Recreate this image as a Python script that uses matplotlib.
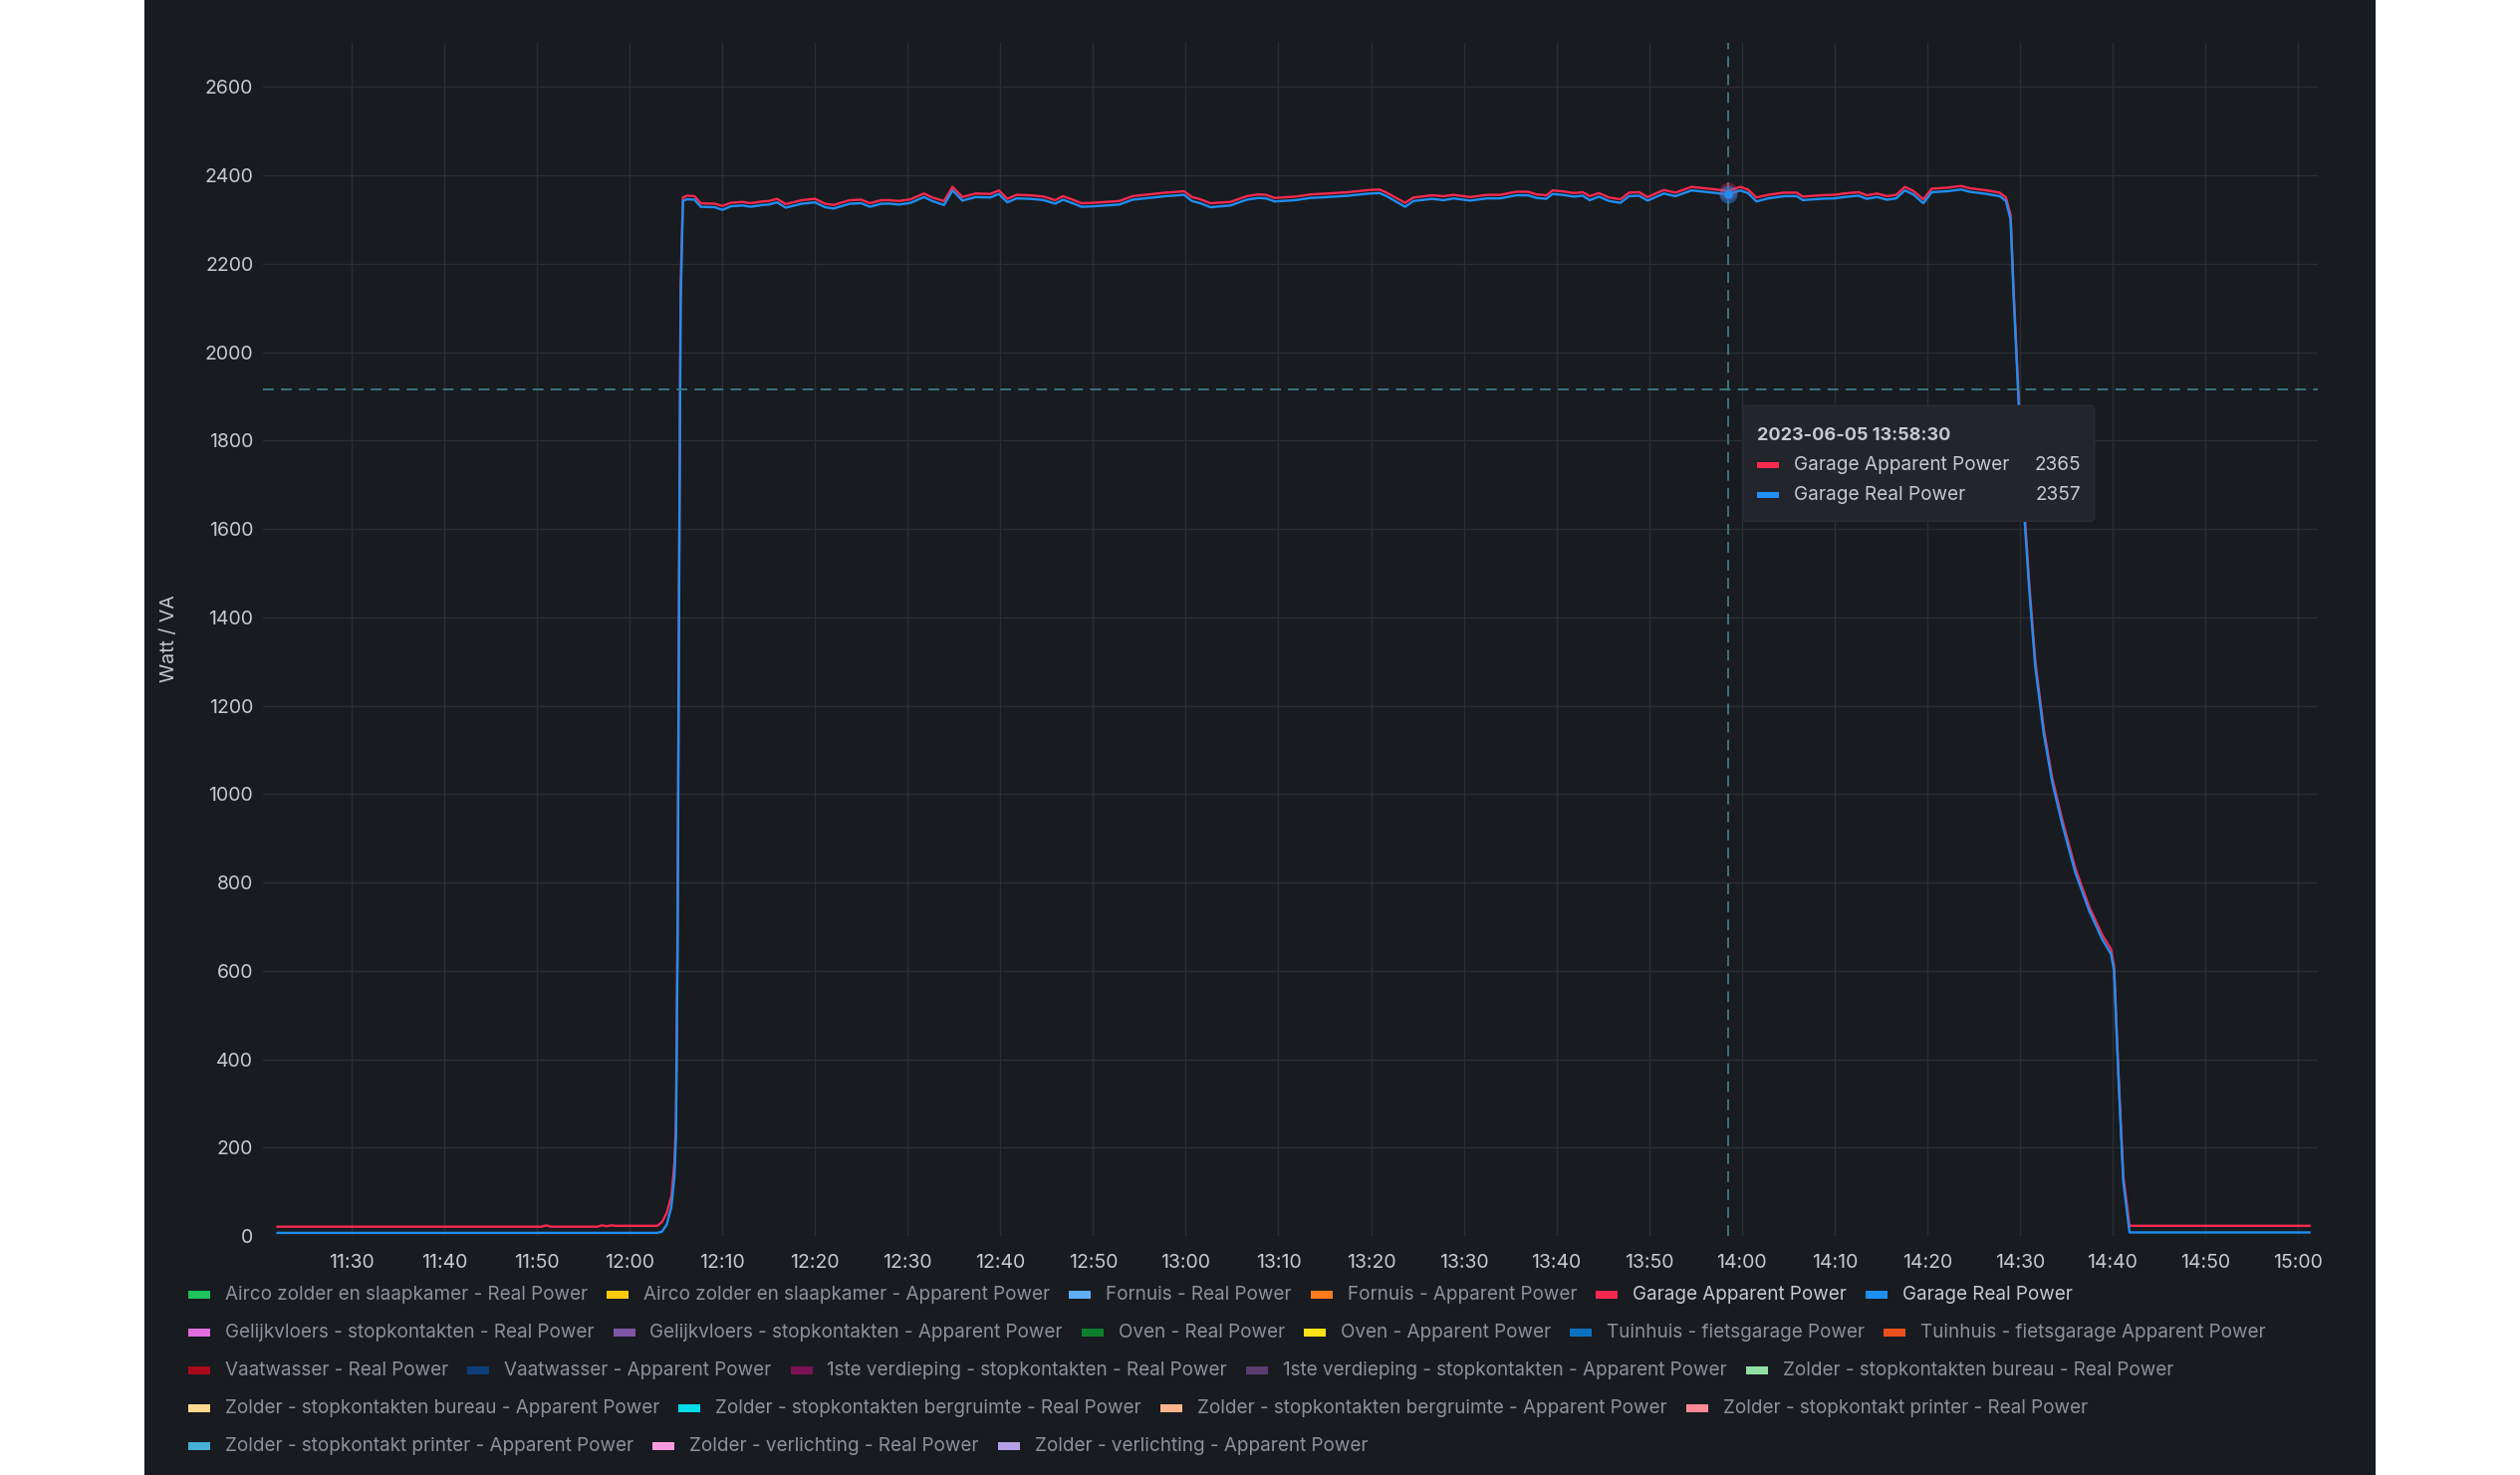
import matplotlib
matplotlib.use("Agg")
import matplotlib.pyplot as plt
import matplotlib.dates as mdates
from matplotlib.patches import Rectangle, FancyBboxPatch
from matplotlib.transforms import IdentityTransform
import pandas as pd

plt.rcParams['font.family'] = ['Inter', 'DejaVu Sans']

DAY = '2023-06-05 '

times = [
    '11:22:00', '11:50:30', '11:51:00', '11:51:30', '11:56:30', '11:57:00', '11:57:30', '11:58:00',
    '11:58:30', '12:03:00', '12:03:30', '12:04:00', '12:04:30', '12:04:50', '12:05:00', '12:05:10',
    '12:05:20', '12:05:30', '12:05:45', '12:06:10', '12:07:00', '12:07:40', '12:09:10', '12:10:00',
    '12:10:55', '12:12:10', '12:13:00', '12:14:20', '12:15:00', '12:15:55', '12:16:50', '12:18:35',
    '12:20:00', '12:21:05', '12:22:00', '12:23:45', '12:25:00', '12:25:55', '12:27:10', '12:28:00',
    '12:29:05', '12:30:20', '12:31:45', '12:32:40', '12:33:55', '12:34:50', '12:35:55', '12:37:20',
    '12:38:55', '12:39:50', '12:40:45', '12:41:45', '12:43:15', '12:44:40', '12:45:55', '12:46:45',
    '12:47:40', '12:48:45', '12:50:00', '12:51:25', '12:52:50', '12:54:15', '12:56:05', '12:57:50',
    '12:59:50', '13:00:40', '13:01:35', '13:02:40', '13:04:50', '13:06:35', '13:07:50', '13:08:40',
    '13:09:35', '13:11:50', '13:13:30', '13:15:20', '13:17:30', '13:19:50', '13:20:55', '13:21:40',
    '13:23:40', '13:24:35', '13:26:35', '13:27:50', '13:28:55', '13:30:40', '13:32:30', '13:33:55',
    '13:35:40', '13:36:55', '13:37:50', '13:38:55', '13:39:35', '13:40:40', '13:41:50', '13:42:50',
    '13:43:35', '13:44:35', '13:45:40', '13:46:55', '13:47:50', '13:48:55', '13:49:50', '13:51:35',
    '13:52:50', '13:54:35', '13:56:25', '13:58:30', '13:59:50', '14:00:40', '14:01:35', '14:02:50',
    '14:04:35', '14:05:55', '14:06:35', '14:08:30', '14:10:00', '14:11:00', '14:12:35', '14:13:30',
    '14:14:35', '14:15:40', '14:16:40', '14:17:35', '14:18:30', '14:19:35', '14:20:30', '14:22:05',
    '14:23:40', '14:24:35', '14:26:25', '14:27:50', '14:28:30', '14:29:00', '14:29:20', '14:29:55',
    '14:30:30', '14:31:00', '14:31:40', '14:32:35', '14:33:30', '14:34:35', '14:36:00', '14:37:30',
    '14:38:55', '14:39:50', '14:40:10', '14:40:40', '14:41:10', '14:41:50', '15:01:15',
]

apparent_power = [
    21, 21, 24, 21, 21, 24, 22, 24,
    23, 23, 32, 52, 90, 165, 260, 700,
    1500, 2150, 2350, 2354, 2353, 2337, 2336, 2331,
    2338, 2340, 2337, 2341, 2342, 2347, 2335, 2344,
    2347, 2336, 2333, 2344, 2345, 2337, 2344, 2344,
    2342, 2346, 2359, 2350, 2342, 2374, 2351, 2359,
    2358, 2366, 2347, 2356, 2355, 2352, 2344, 2353,
    2346, 2337, 2338, 2340, 2342, 2353, 2357, 2361,
    2364, 2351, 2346, 2337, 2340, 2353, 2357, 2356,
    2349, 2352, 2357, 2359, 2362, 2367, 2368, 2361,
    2338, 2350, 2355, 2353, 2356, 2351, 2356, 2356,
    2363, 2363, 2357, 2355, 2366, 2364, 2360, 2362,
    2353, 2360, 2350, 2346, 2361, 2362, 2351, 2367,
    2361, 2374, 2370, 2365, 2374, 2368, 2350, 2356,
    2361, 2361, 2352, 2355, 2356, 2359, 2362, 2355,
    2359, 2353, 2356, 2374, 2365, 2346, 2370, 2372,
    2376, 2371, 2366, 2361, 2350, 2310, 2140, 1880,
    1640, 1480, 1300, 1147, 1036, 941, 831, 744,
    680, 649, 610, 356, 134, 23, 23,
]

real_power = [
    7, 7, 7, 7, 7, 7, 7, 7,
    7, 7, 10, 26, 65, 135, 225, 640,
    1440, 2110, 2342, 2346, 2345, 2329, 2328, 2322,
    2330, 2332, 2329, 2333, 2334, 2339, 2327, 2336,
    2339, 2328, 2325, 2336, 2337, 2329, 2336, 2336,
    2334, 2338, 2351, 2342, 2333, 2366, 2343, 2351,
    2350, 2358, 2339, 2348, 2347, 2344, 2336, 2345,
    2338, 2329, 2330, 2332, 2334, 2345, 2349, 2353,
    2356, 2342, 2337, 2328, 2332, 2345, 2349, 2348,
    2341, 2344, 2349, 2351, 2354, 2359, 2360, 2353,
    2329, 2342, 2347, 2344, 2348, 2343, 2348, 2348,
    2355, 2355, 2349, 2347, 2358, 2356, 2352, 2354,
    2344, 2352, 2342, 2338, 2353, 2354, 2343, 2359,
    2353, 2366, 2362, 2357, 2366, 2360, 2341, 2348,
    2353, 2353, 2344, 2347, 2348, 2351, 2354, 2347,
    2351, 2345, 2348, 2366, 2357, 2337, 2362, 2364,
    2368, 2363, 2358, 2353, 2342, 2300, 2125, 1865,
    1625, 1466, 1288, 1136, 1026, 931, 821, 735,
    670, 638, 600, 345, 122, 8, 8,
]

x_ticks = ['11:30', '11:40', '11:50', '12:00', '12:10', '12:20', '12:30', '12:40', '12:50',
           '13:00', '13:10', '13:20', '13:30', '13:40', '13:50', '14:00', '14:10', '14:20',
           '14:30', '14:40', '14:50', '15:00']
y_ticks = list(range(0, 2601, 200))

hover_time = '13:58:30'
hover_cursor_value = 1915
tooltip_rows = [('Garage Apparent Power', 2365), ('Garage Real Power', 2357)]

legend_names = [
    'Airco zolder en slaapkamer - Real Power', 'Airco zolder en slaapkamer - Apparent Power',
    'Fornuis - Real Power', 'Fornuis - Apparent Power', 'Garage Apparent Power', 'Garage Real Power',
    'Gelijkvloers - stopkontakten - Real Power', 'Gelijkvloers - stopkontakten - Apparent Power',
    'Oven - Real Power', 'Oven - Apparent Power', 'Tuinhuis - fietsgarage Power',
    'Tuinhuis - fietsgarage Apparent Power',
    'Vaatwasser - Real Power', 'Vaatwasser - Apparent Power',
    '1ste verdieping - stopkontakten - Real Power', '1ste verdieping - stopkontakten - Apparent Power',
    'Zolder - stopkontakten bureau - Real Power',
    'Zolder - stopkontakten bureau - Apparent Power', 'Zolder - stopkontakten bergruimte - Real Power',
    'Zolder - stopkontakten bergruimte - Apparent Power', 'Zolder - stopkontakt printer - Real Power',
    'Zolder - stopkontakt printer - Apparent Power', 'Zolder - verlichting - Real Power',
    'Zolder - verlichting - Apparent Power',
]
legend_colors = [
    '#1ec25e', '#ffc90e', '#5fb0ff', '#ff7b1c', '#f7294f', '#1f8ef1',
    '#e06ddc', '#7f56a6', '#0b7f2c', '#ffe11a', '#0a71c0', '#e8501d',
    '#a8081a', '#0b3e7a', '#7c1154', '#5b3c72', '#8fe2a3',
    '#ffd98f', '#00dbe9', '#ffb48a', '#ff8a96',
    '#45b1d9', '#ff9ade', '#b6a1e8',
]
legend_row_counts = [6, 6, 5, 4, 3]
visible = ['Garage Apparent Power', 'Garage Real Power']

BG = '#181b1f'
GRID = '#2a2d32'
TXT = '#c7c8d1'
DIM = '#8f909b'
RED = '#f7294f'
BLUE = '#1f8ef1'
CURSOR = '#3b7c88'

W, H = 2530, 1481
fig = plt.figure(figsize=(W / 100, H / 100), dpi=100)
fig.patch.set_facecolor('white')
fig.add_artist(Rectangle((145 / W, 0), (2385 - 145) / W, 1, transform=fig.transFigure,
                         facecolor=BG, edgecolor='none', zorder=-10))

ax = fig.add_axes([264 / W, 1 - 1241 / H, (2327 - 264) / W, (1241 - 43) / H])
ax.set_facecolor(BG)

t = pd.to_datetime([DAY + s for s in times])
ax.plot(t, apparent_power, color=RED, lw=1.7, zorder=3)
ax.plot(t, real_power, color=BLUE, lw=1.7, zorder=4)

ax.set_xlim(pd.Timestamp(DAY + '11:20:26'), pd.Timestamp(DAY + '15:02:09'))
ax.set_ylim(0, 2700)
ax.set_xticks(pd.to_datetime([DAY + s for s in x_ticks]))
ax.xaxis.set_major_formatter(mdates.DateFormatter('%H:%M'))
ax.set_yticks(y_ticks)
ax.tick_params(axis='both', length=0, labelsize=14, labelcolor=TXT)
ax.tick_params(axis='x', pad=13)
ax.tick_params(axis='y', pad=7)
ax.grid(True, color=GRID, lw=1)
ax.set_axisbelow(True)
for s in ax.spines.values():
    s.set_visible(False)

fig.text(170 / W, 1 - 641 / H, 'Watt / VA', rotation=90, ha='center', va='center',
         fontsize=14, color=TXT)

# hover crosshair
ht = pd.Timestamp(DAY + hover_time)
ax.axvline(ht, color=CURSOR, lw=1.3, ls=(0, (6, 4)), zorder=5)
ax.axhline(hover_cursor_value, color=CURSOR, lw=1.3, ls=(0, (6, 4)), zorder=5)
ax.scatter([ht], [tooltip_rows[0][1]], s=170, color=RED, alpha=0.35, zorder=6, lw=0)
ax.scatter([ht], [tooltip_rows[1][1]], s=170, color=BLUE, alpha=0.45, zorder=7, lw=0)
ax.scatter([ht], [tooltip_rows[1][1]], s=40, color=BLUE, zorder=8, lw=0)

# tooltip box
fig.canvas.draw()
cx, cy = ax.transData.transform((mdates.date2num(ht), hover_cursor_value))
bl, bt = cx + 15, cy - 16
bw, bh = 353, 116
idt = IdentityTransform()
fig.add_artist(FancyBboxPatch((bl, bt - bh), bw, bh, boxstyle='round,pad=0,rounding_size=4',
                              transform=idt, facecolor='#22252b', edgecolor='#2a2d33', lw=1, zorder=20))
fig.text(bl + 14, bt - 30, '2023-06-05 ' + hover_time, transform=idt, fontsize=13,
         fontweight='bold', color=TXT, va='center', ha='left', zorder=21)
for i, (name, val) in enumerate(tooltip_rows):
    yy = bt - 60 - 30 * i
    fig.add_artist(Rectangle((bl + 14, yy - 3), 22, 6, transform=idt,
                             facecolor=[RED, BLUE][i], edgecolor='none', zorder=21))
    fig.text(bl + 51, yy, name, transform=idt, fontsize=13.7, color=TXT, va='center', ha='left', zorder=21)
    fig.text(bl + bw - 14, yy, str(val), transform=idt, fontsize=13.7, color=TXT,
             va='center', ha='right', zorder=21)

# legend
renderer = fig.canvas.get_renderer()
row_y = [1300, 1338, 1376, 1414, 1452]
k = 0
for r, n in enumerate(legend_row_counts):
    x = 189
    y = H - row_y[r]
    for _ in range(n):
        name = legend_names[k]
        col = legend_colors[k]
        fig.add_artist(Rectangle((x, y - 4), 22, 8, transform=idt, facecolor=col, edgecolor='none'))
        txt = fig.text(x + 37, y, name, transform=idt, fontsize=13.6,
                       color=TXT if name in visible else DIM, va='center', ha='left')
        w = txt.get_window_extent(renderer).width
        x = x + 37 + w + 19
        k += 1

fig.savefig('out.png', dpi=100, facecolor=fig.get_facecolor())
